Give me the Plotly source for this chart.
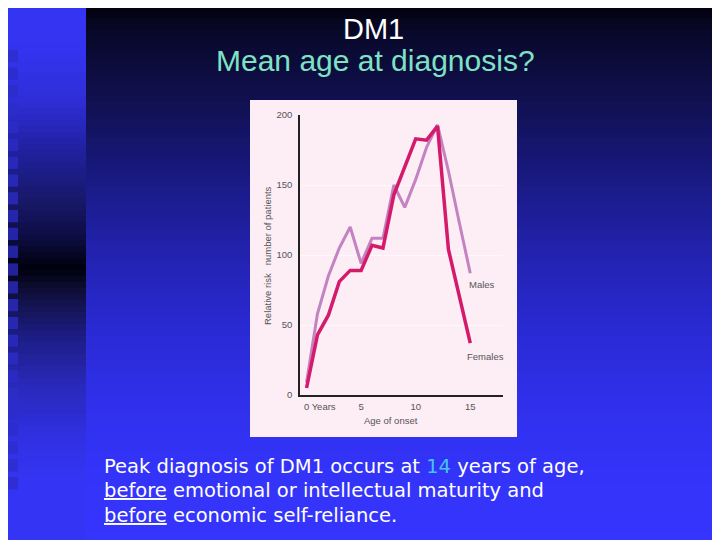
import plotly.graph_objects as go

# relative risk by age of onset
ages = list(range(16))
males = [9, 58, 85, 105, 120, 94, 112, 112, 150, 134, 154, 177, 193, 160, 123, 87]
females = [5, 43, 57, 81, 89, 89, 107, 105, 143, 163, 183, 182, 192, 104, 70, 37]

y_ticks = [0, 50, 100, 150, 200]
x_ticks = [0, 5, 10, 15]
x_tick_labels = ["&nbsp;" * 10 + "0 Years", "5", "10", "15"]

body_lines = [
    "Peak diagnosis of DM1 occurs at <span style='color:#45c4f2'>14</span> years of age,",
    "<u>before</u> emotional or intellectual maturity and",
    "<u>before</u> economic self-reliance.",
]

W, H = 720, 540
# the page body adds an 8px margin, so positions below are given in screen pixels
OX, OY = 8, 8


def px(x):
    return (x - OX) / W


def py(y):
    return 1 - (y - OY) / H


def interp(stops, y):
    for (y0, c0), (y1, c1) in zip(stops[:-1], stops[1:]):
        if y0 <= y <= y1:
            t = (y - y0) / (y1 - y0)
            return tuple(round(a + (b - a) * t) for a, b in zip(c0, c1))
    return stops[-1][1]


def rgb(c):
    return "rgb(%d,%d,%d)" % c


# slide background: two vertical gradients plus a column of squares
main_stops = [(0, (0, 0, 5)), (30, (8, 8, 40)), (100, (16, 16, 80)), (200, (28, 28, 144)),
              (270, (36, 36, 184)), (330, (42, 42, 212)), (400, (48, 48, 234)),
              (460, (51, 51, 248)), (560, (53, 53, 255))]
strip_stops = [(0, (52, 52, 244)), (50, (52, 52, 240)), (100, (46, 46, 216)), (150, (32, 32, 160)),
               (200, (24, 24, 106)), (240, (12, 12, 64)), (268, (0, 0, 12)), (290, (14, 14, 54)),
               (333, (28, 28, 128)), (383, (40, 40, 184)), (433, (48, 48, 224)),
               (480, (52, 52, 244)), (560, (52, 52, 246))]

shapes = []
band = 6
for y in range(0, H + OY, band):
    shapes.append(dict(type="rect", xref="paper", yref="paper", layer="below",
                       x0=px(86), x1=px(W + OX), y0=py(y + band), y1=py(y), line_width=0,
                       fillcolor=rgb(interp(main_stops, y + band / 2))))
    shapes.append(dict(type="rect", xref="paper", yref="paper", layer="below",
                       x0=px(0), x1=px(86), y0=py(y + band), y1=py(y), line_width=0,
                       fillcolor=rgb(interp(strip_stops, y + band / 2))))

for k in range(-9, 16):
    top = 210 + 17.8 * k
    bg = interp(strip_stops, top + 6)
    col = tuple(round(0.25 * b + 0.75 * s) for b, s in zip(bg, (44, 44, 200)))
    shapes.append(dict(type="rect", xref="paper", yref="paper", layer="below",
                       x0=px(6), x1=px(18), y0=py(top + 12.3), y1=py(top), line_width=0,
                       fillcolor=rgb(col)))

# pink figure panel
shapes.append(dict(type="rect", xref="paper", yref="paper", layer="below",
                   x0=px(250), x1=px(517), y0=py(437), y1=py(100), line_width=0,
                   fillcolor="#fdedf5"))

fig = go.Figure()
fig.add_trace(go.Scatter(x=ages, y=males, mode="lines", name="Males",
                         line=dict(color="#c383c2", width=3)))
fig.add_trace(go.Scatter(x=ages, y=females, mode="lines", name="Females",
                         line=dict(color="#d41a6a", width=3.5)))

small = dict(family="Liberation Sans", size=9.5, color="#555555")
tick_font = dict(family="Liberation Sans", size=9.5, color="#555555")
body_font = dict(family="DejaVu Sans", size=19.5, color="white")


def note(text, x, y, **kw):
    base = dict(text=text, x=x, y=y, xref="paper", yref="paper", showarrow=False,
                xanchor="center", yanchor="middle")
    base.update(kw)
    return base


annotations = [
    note("DM1", px(373), py(29), font=dict(family="Liberation Sans", size=29, color="white")),
    note("Mean age at diagnosis?", px(375), py(61),
         font=dict(family="Liberation Sans", size=30, color="#7fe2c4")),
    note("Age of onset", px(391), py(420), font=small),
    note("Relative risk &nbsp; number of patients", px(267), py(256), textangle=-90, font=small),
    dict(text="Males", x=ages[-1], y=males[-1], xref="x", yref="y", xanchor="left",
         yanchor="top", xshift=-3, yshift=-4, showarrow=False, font=small),
    dict(text="Females", x=ages[-1], y=females[-1], xref="x", yref="y", xanchor="left",
         yanchor="top", xshift=-5, yshift=-6, showarrow=False, font=small),
]
for i, line in enumerate(body_lines):
    annotations.append(note(line, px(102), py(466 + 24.5 * i), xanchor="left",
                            align="left", font=body_font))

fig.update_layout(
    width=W, height=H,
    margin=dict(l=0, r=0, t=0, b=0, pad=0, autoexpand=False),
    paper_bgcolor="#2020a0",
    plot_bgcolor="rgba(0,0,0,0)",
    showlegend=False,
    shapes=shapes,
    annotations=annotations,
    xaxis=dict(domain=[px(300), px(503)], range=[-0.6, 18], tickvals=x_ticks,
               ticktext=x_tick_labels, showgrid=False, zeroline=False,
               showline=True, linecolor="#222222", linewidth=1.5, ticks="",
               ticklabelstandoff=2, tickfont=tick_font, fixedrange=True, automargin=False),
    yaxis=dict(domain=[py(395), py(115)], range=[0, 200], tickvals=y_ticks,
               showgrid=True, gridcolor="#fff7fb", gridwidth=1, zeroline=False,
               showline=True, linecolor="#222222", linewidth=1.5, ticks="",
               ticklabelstandoff=4, tickfont=tick_font, fixedrange=True, automargin=False),
)

fig.write_html("out.html")
